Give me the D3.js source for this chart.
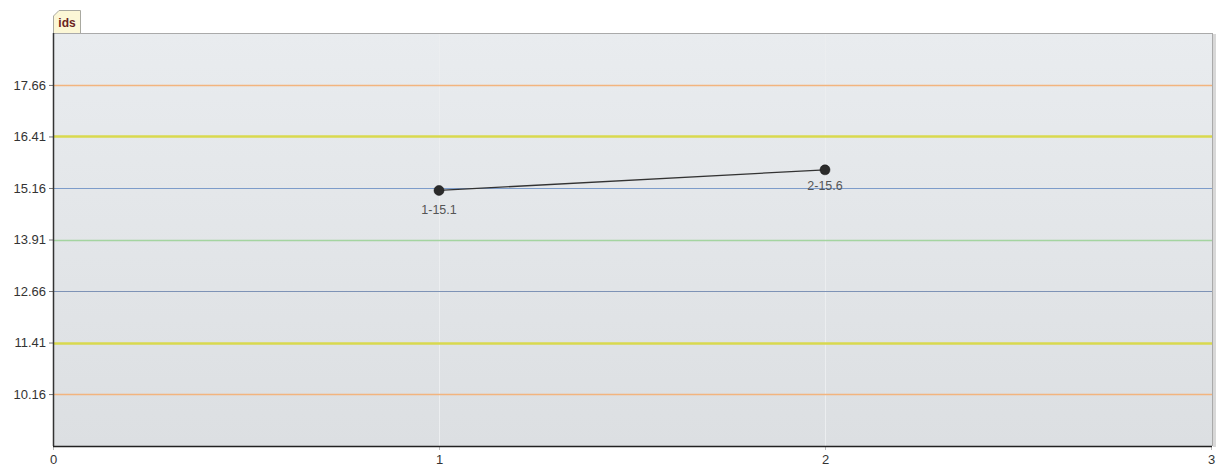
<!DOCTYPE html>
<html>
<head>
<meta charset="utf-8">
<script src="https://cdn.jsdelivr.net/npm/d3@7"></script>
<style>
  body { margin: 0; background: #fff; }
  text { font-family: "Liberation Sans", Arial, sans-serif; }
</style>
</head>
<body>
<script>
// data
var xValues = [1, 2];
var yValues = [15.1, 15.6];
var pointLabels = ["1-15.1", "2-15.6"];
var xTicks = [0, 1, 2, 3];
var yTicks = [10.16, 11.41, 12.66, 13.91, 15.16, 16.41, 17.66];
var refColors = ["#f2b47e", "#d9d94e", "#7e93b6", "#a4d4a0", "#7d9cca", "#d9d94e", "#f2b47e"];
var refWidths = [1.5, 2.5, 1, 1.5, 1.2, 2.5, 1.5];
var seriesName = "ids";

var W = 1217, H = 468;
var m = {left: 53, right: 6, top: 33, bottom: 22};
var pw = W - m.left - m.right, ph = H - m.top - m.bottom;

var svg = d3.select("body").append("svg").attr("width", W).attr("height", H);

var x = d3.scaleLinear().domain([0, 3]).range([0, 1158]);
var y = d3.scaleLinear().domain([8.9, 18.92]).range([ph, 0]);

var defs = svg.append("defs");
var grad = defs.append("linearGradient").attr("id", "bg").attr("x1", 0).attr("y1", 0).attr("x2", 0).attr("y2", 1);
grad.append("stop").attr("offset", "0%").attr("stop-color", "#e9ecef");
grad.append("stop").attr("offset", "100%").attr("stop-color", "#dcdfe2");

var g = svg.append("g").attr("transform", "translate(" + m.left + "," + m.top + ")");

// shadow on right
g.append("rect").attr("x", 1160).attr("y", 1).attr("width", 3).attr("height", ph).attr("fill", "#d8d8d8");
g.append("rect").attr("width", 1159).attr("height", ph).attr("fill", "url(#bg)");

// vertical grid
g.selectAll(".vg").data(xTicks.slice(1, 3)).enter().append("line")
  .attr("x1", d => x(d) + 0.5).attr("x2", d => x(d) + 0.5).attr("y1", 0).attr("y2", ph)
  .attr("stroke", "#eceef0").attr("stroke-width", 1);

// reference lines
g.selectAll(".ref").data(yTicks).enter().append("line")
  .attr("x1", 0).attr("x2", 1159)
  .attr("y1", d => Math.round(y(d)) + 0.5).attr("y2", d => Math.round(y(d)) + 0.5)
  .attr("stroke", (d, i) => refColors[i]).attr("stroke-width", (d, i) => refWidths[i]);

// border
g.append("line").attr("x1", 0).attr("x2", 1159).attr("y1", 0.5).attr("y2", 0.5).attr("stroke", "#aaa");
g.append("line").attr("x1", 1159.5).attr("x2", 1159.5).attr("y1", 0).attr("y2", ph).attr("stroke", "#aaa");

// y axis
var yAxis = d3.axisLeft(y).tickValues(yTicks).tickFormat(d3.format(".2f")).tickSize(4).tickPadding(3);
var ya = g.append("g").call(yAxis);
ya.select(".domain").remove();
ya.selectAll(".tick line").attr("stroke", "#777");
ya.selectAll(".tick text").attr("font-size", 13).attr("fill", "#333").attr("font-family", "Liberation Sans, Arial, sans-serif");

// x axis
var xAxis = d3.axisBottom(x).tickValues(xTicks).tickFormat(d3.format("d")).tickSize(4).tickPadding(5);
var xa = g.append("g").attr("transform", "translate(0," + ph + ")").call(xAxis);
xa.select(".domain").remove();
xa.selectAll(".tick line").attr("stroke", "#bbb");
xa.selectAll(".tick text").attr("font-size", 13).attr("fill", "#333").attr("font-family", "Liberation Sans, Arial, sans-serif");

g.append("line").attr("x1", 0).attr("x2", 1159).attr("y1", ph + 0.5).attr("y2", ph + 0.5).attr("stroke", "#222").attr("stroke-width", 1.5);
g.append("line").attr("x1", 0.5).attr("x2", 0.5).attr("y1", 0).attr("y2", ph).attr("stroke", "#333").attr("stroke-width", 1.5);

// series
var pts = xValues.map((v, i) => [v, yValues[i]]);
g.append("path").datum(pts)
  .attr("d", d3.line().x(d => x(d[0])).y(d => y(d[1])))
  .attr("fill", "none").attr("stroke", "#333").attr("stroke-width", 1.3);
g.selectAll(".pt").data(pts).enter().append("circle")
  .attr("cx", d => x(d[0])).attr("cy", d => y(d[1])).attr("r", 5)
  .attr("fill", "#2b2b2b").attr("stroke", "#111").attr("stroke-width", 0.5);
g.selectAll(".lbl").data(pts).enter().append("text")
  .attr("x", d => x(d[0])).attr("y", (d, i) => y(d[1]) + (i === 0 ? 24 : 20))
  .attr("text-anchor", "middle").attr("font-size", 12.5).attr("fill", "#555")
  .text((d, i) => pointLabels[i]);

// series tab
var tab = svg.append("g").attr("transform", "translate(53,10)");
tab.append("path").attr("d", "M0.5,23 L0.5,6 L6,0.5 L27.5,0.5 L27.5,23")
  .attr("fill", "#fcf7d6").attr("stroke", "#a9a9a0");
tab.append("text").attr("x", 14).attr("y", 17).attr("text-anchor", "middle")
  .attr("font-size", 12).attr("font-weight", "bold").attr("fill", "#6b1f1f").text(seriesName);
</script>
</body>
</html>
